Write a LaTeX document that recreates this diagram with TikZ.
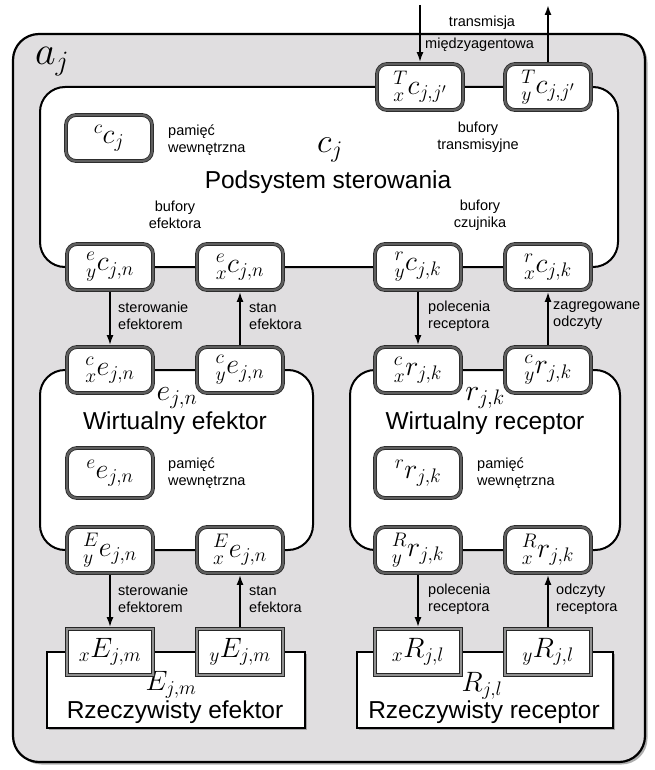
\RequirePackage{fix-cm}
\documentclass[tikz,border=0pt]{standalone}
\usepackage{fontspec}
\setmainfont{Liberation Sans}
\usetikzlibrary{shadows,arrows.meta}
\definecolor{agentgray}{RGB}{224,222,224}
\definecolor{bufedge}{RGB}{95,95,95}

\begin{document}
\begin{tikzpicture}[x=1pt,y=-1pt,
  agent/.style={draw=black, line width=2.2pt, fill=agentgray, rounded corners=26pt,
    drop shadow={shadow xshift=2.5pt, shadow yshift=-2.5pt, opacity=0.45, fill=black!70}},
  subsys/.style={draw=black, line width=2pt, fill=white, rounded corners=25pt, inner sep=0pt},
  realbox/.style={draw=black, line width=2.6pt, fill=white, inner sep=0pt,
    drop shadow={shadow xshift=2pt, shadow yshift=-2pt, opacity=0.4, fill=black!70}},
  buf/.style={draw=black!85, double=bufedge, double distance=2.2pt, line width=0.8pt,
    fill=white, rounded corners=10pt, minimum width=86pt, minimum height=46pt, inner sep=0pt,
    font=\fontsize{28}{30}\selectfont,
    drop shadow={shadow xshift=1.5pt, shadow yshift=-1.5pt, opacity=0.35, fill=black!70}},
  port/.style={buf, rounded corners=0pt, double=bufedge!70, double distance=1.8pt},
  note/.style={font=\fontsize{14.5}{17}\selectfont, align=left, anchor=west, inner sep=0pt},
  notec/.style={note, align=center, anchor=center},
  title/.style={font=\fontsize{24.5}{26}\selectfont, inner sep=0pt},
  flow/.style={line width=1.8pt, -{Latex[length=10pt,width=7pt]}, shorten >=1.5pt, shorten <=1.5pt},
]
\useasboundingbox (0,0) rectangle (655,770);
\fill[white] (0,0) rectangle (655,770);

% agent frame
\node[agent, minimum width=632pt, minimum height=728pt] (agent) at (329,398) {};
\node[font=\fontsize{40}{40}\selectfont, inner sep=0pt] (alab) at (52,62) {$a_j$};

% control subsystem
\node[subsys, minimum width=578pt, minimum height=180pt] (csys) at (329,177) {};
\node[font=\fontsize{34}{34}\selectfont, inner sep=0pt] (clab) at (330,150) {$c_j$};
\node[title] (ctitle) at (328,182) {Podsystem sterowania};

\node[buf] (Tx) at (420,87) {${}^{T}_{x}c_{j,j'}$};
\node[buf] (Ty) at (548,87) {${}^{T}_{y}c_{j,j'}$};
\node[buf] (cc) at (109,138) {${}^{c}c_{j}$};
\node[note] (ccn) at (168,140) {pamięć\\wewnętrzna};
\node[notec] (trn) at (478,137) {bufory\\transmisyjne};
\node[notec] (efn) at (175,215) {bufory\\efektora};
\node[notec] (czn) at (480,215) {bufory\\czujnika};

\node[buf] (ecy) at (110,267) {${}^{e}_{y}c_{j,n}$};
\node[buf] (ecx) at (240,267) {${}^{e}_{x}c_{j,n}$};
\node[buf] (rcy) at (418,267) {${}^{r}_{y}c_{j,k}$};
\node[buf] (rcx) at (548,267) {${}^{r}_{x}c_{j,k}$};

% inter-agent transmission
\coordinate (inTop) at (420,5);
\coordinate (outTop) at (548,5);
\draw[flow, shorten <=0pt] (inTop) -- (Tx.north);
\draw[flow, shorten >=0pt] (Ty.north) -- (outTop);
\node[notec] (trm1) at (482,23) {transmisja};
\node[note] (trm2) at (425,45) {międzyagentowa};

% virtual effector
\node[subsys, minimum width=273pt, minimum height=180pt] (veff) at (176.5,460) {};
\node[font=\fontsize{30}{30}\selectfont, inner sep=0pt] (elab) at (177,398) {$e_{j,n}$};
\node[title] (etitle) at (175,423) {Wirtualny efektor};
\node[buf] (cex) at (110,370) {${}^{c}_{x}e_{j,n}$};
\node[buf] (cey) at (240,370) {${}^{c}_{y}e_{j,n}$};
\node[buf, minimum height=50pt] (ee) at (110,473) {${}^{e}e_{j,n}$};
\node[note] (een) at (168,473) {pamięć\\wewnętrzna};
\node[buf] (Eey) at (110,550) {${}^{E}_{y}e_{j,n}$};
\node[buf] (Eex) at (240,550) {${}^{E}_{x}e_{j,n}$};

% virtual receptor
\node[subsys, minimum width=270pt, minimum height=180pt] (vrec) at (485,460) {};
\node[font=\fontsize{30}{30}\selectfont, inner sep=0pt] (rlab) at (485,398) {$r_{j,k}$};
\node[title] (rtitle) at (485,423) {Wirtualny receptor};
\node[buf] (crx) at (418,370) {${}^{c}_{x}r_{j,k}$};
\node[buf] (cry) at (548,370) {${}^{c}_{y}r_{j,k}$};
\node[buf, minimum height=50pt] (rr) at (418,473) {${}^{r}r_{j,k}$};
\node[note] (rrn) at (477,473) {pamięć\\wewnętrzna};
\node[buf] (Rry) at (418,550) {${}^{R}_{y}r_{j,k}$};
\node[buf] (Rrx) at (548,550) {${}^{R}_{x}r_{j,k}$};

% real effector
\node[realbox, minimum width=258pt, minimum height=76pt] (reff) at (176,690) {};
\node[font=\fontsize{28}{28}\selectfont, inner sep=0pt] (Elab) at (171,685) {$E_{j,m}$};
\node[title] (Etitle) at (175,712) {Rzeczywisty efektor};
\node[port] (Ex) at (110,652) {${}_{x}E_{j,m}$};
\node[port] (Ey) at (240,652) {${}_{y}E_{j,m}$};

% real receptor
\node[realbox, minimum width=256pt, minimum height=76pt] (rrec) at (485,690) {};
\node[font=\fontsize{28}{28}\selectfont, inner sep=0pt] (Rlab) at (482,686) {$R_{j,l}$};
\node[title] (Rtitle) at (484,712) {Rzeczywisty receptor};
\node[port] (Rx) at (418,652) {${}_{x}R_{j,l}$};
\node[port] (Ry) at (548,652) {${}_{y}R_{j,l}$};

% control <-> virtual devices
\draw[flow] (ecy.south) -- (cex.north);
\draw[flow] (cey.north) -- (ecx.south);
\draw[flow] (rcy.south) -- (crx.north);
\draw[flow] (cry.north) -- (rcx.south);
\node[note] (l1) at (118,316) {sterowanie\\efektorem};
\node[note] (l2) at (249,316) {stan\\efektora};
\node[note] (l3) at (428,316) {polecenia\\receptora};
\node[note] (l4) at (553,316) {zagregowane\\odczyty};

% virtual <-> real devices
\draw[flow] (Eey.south) -- (Ex.north);
\draw[flow] (Ey.north) -- (Eex.south);
\draw[flow] (Rry.south) -- (Rx.north);
\draw[flow] (Ry.north) -- (Rrx.south);
\node[note] (l5) at (118,599) {sterowanie\\efektorem};
\node[note] (l6) at (249,599) {stan\\efektora};
\node[note] (l7) at (428,599) {polecenia\\receptora};
\node[note] (l8) at (556,599) {odczyty\\receptora};
\end{tikzpicture}
\end{document}
